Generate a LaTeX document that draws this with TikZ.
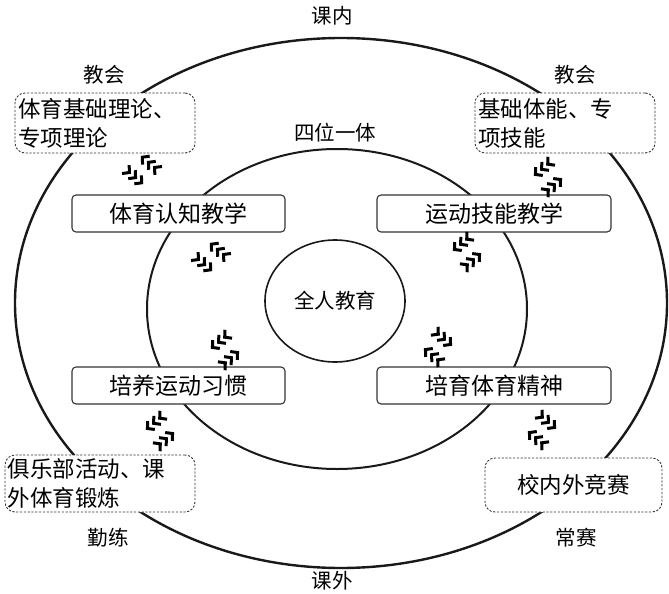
\documentclass[tikz,border=0pt]{standalone}
\usepackage{fontspec}
\setmainfont{Noto Sans CJK SC}
\usetikzlibrary{calc}
\begin{document}
\begin{tikzpicture}[x=1pt,y=-1pt,
  ring/.style={draw=black!90},
  solidbox/.style={draw=black!80, line width=1.1pt, rounded corners=4pt, fill=white,
    minimum height=37pt, inner sep=0pt, font=\fontsize{23}{26}\selectfont},
  dashbox/.style={draw=black!80, line width=0.9pt, dash pattern=on 2.2pt off 1.6pt,
    rounded corners=10pt, fill=white, inner sep=3pt, align=left,
    font=\fontsize{22.5}{29}\selectfont},
  lbl/.style={font=\fontsize{20.5}{24}\selectfont, inner sep=0pt},
  chev/.style={line width=3pt, line cap=butt, line join=miter},
  pics/twoway/.style={code={
    \pgfmathsetmacro\ofs{10*#1}
    \pgfmathsetmacro\nofs{-10*#1}
    \foreach \d in {-8,0,8}{
      \draw[chev] ({\d-5},{\ofs-5.5}) -- (\d,\ofs) -- ({\d-5},{\ofs+5.5});
      \draw[chev] ({\d+5},{\nofs-5.5}) -- (\d,\nofs) -- ({\d+5},{\nofs+5.5});
    }}}
]
\useasboundingbox (0,0) rectangle (669,594);
% rings
\draw[ring, line width=2.4pt] (341,303) ellipse [x radius=326, y radius=265];
\draw[ring, line width=2pt] (337,309) ellipse [x radius=190, y radius=160];
\draw[ring, line width=1.6pt] (335,301) ellipse [x radius=70, y radius=61];
\node[lbl] (core) at (335,301) {全人教育};
% labels
\node[lbl] (kn) at (332,16) {课内};
\node[lbl] (kw) at (332,581) {课外};
\node[lbl] (jh1) at (104,75) {教会};
\node[lbl] (jh2) at (575,75) {教会};
\node[lbl] (ql) at (108,538) {勤练};
\node[lbl] (cs) at (576,538) {常赛};
\node[lbl] (swyt) at (335,133) {四位一体};
% solid boxes
\node[solidbox, minimum width=213pt] (cog) at (178.5,213.5) {体育认知教学};
\node[solidbox, minimum width=234pt] (skl) at (494,213.5) {运动技能教学};
\node[solidbox, minimum width=213pt] (hab) at (178.5,385.5) {培养运动习惯};
\node[solidbox, minimum width=234pt] (spi) at (494,385.5) {培育体育精神};
% dashed boxes
\node[dashbox, text width=174pt, minimum height=60pt] (tl) at (105,123) {体育基础理论、\\专项理论};
\node[dashbox, text width=174pt, minimum height=60pt] (tr) at (565,123) {基础体能、专\\项技能};
\node[dashbox, text width=184pt, minimum height=57pt] (bl) at (100,483.5) {俱乐部活动、课\\外体育锻炼};
\node[dashbox, minimum width=177pt, minimum height=54pt, align=center] (br) at (573.5,485) {校内外竞赛};
% two-way chevron marks
\pic[rotate=-40] at (142,170) {twoway=1};
\pic[rotate=-40] at (211,257) {twoway=1};
\pic[rotate=40] at (548,177) {twoway=1};
\pic[rotate=40] at (467,252) {twoway=1};
\pic[rotate=40] at (225,350) {twoway=1};
\pic[rotate=-40] at (438,347) {twoway=-1};
\pic[rotate=40] at (160,431) {twoway=1};
\pic[rotate=-40] at (542,430) {twoway=-1};
\end{tikzpicture}
\end{document}
